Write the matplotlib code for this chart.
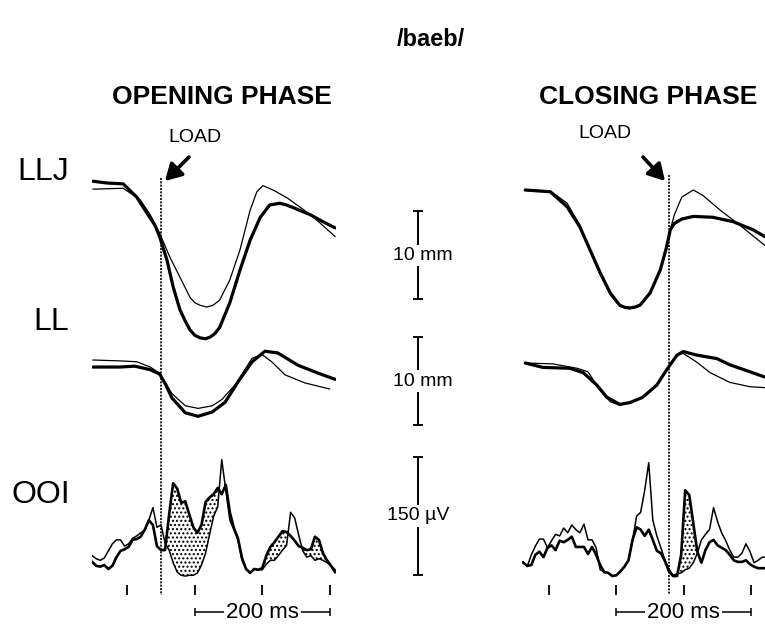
import matplotlib

matplotlib.use("Agg")
import matplotlib.pyplot as plt
import matplotlib.transforms as mtransforms
import numpy as np

# ---- values ----
# time: ms relative to load onset; LLJ / LL: mm; OOI: rectified EMG, uV
# "thick" = loaded trials, "thin" = control trials

# opening phase
LLJ_OPEN_T_THICK = [-101, -80, -56, -36, -21, -9, -2, 9, 18, 28, 36, 43, 50, 58, 66,
                    73, 80, 87, 102, 117, 132, 147, 161, 176, 186, 196, 221, 240, 258]
LLJ_OPEN_THICK = [0.2, 0.0, -0.1, -1.6, -3.4, -4.8, -6.1, -8.8, -11.8, -14.4, -15.7,
                  -16.7, -17.3, -17.6, -17.7, -17.5, -17.1, -16.4, -13.6, -9.9, -6.5,
                  -3.9, -2.5, -2.3, -2.5, -2.8, -3.6, -4.4, -5.1]
LLJ_OPEN_T_THIN = [-101, -56, -31, -16, -2, 13, 28, 43, 50, 58, 68, 77, 87, 102, 117,
                   132, 142, 151, 166, 187, 216, 235, 258]
LLJ_OPEN_THIN = [-0.7, -0.6, -1.9, -3.6, -5.7, -8.4, -10.7, -13.0, -13.6, -13.9, -14.1,
                 -13.9, -13.3, -11.0, -7.6, -3.1, -1.0, -0.3, -0.8, -1.7, -3.3, -4.5,
                 -6.1]

LL_OPEN_T_THICK = [-101, -61, -39, -16, -2, 7, 16, 36, 55, 76, 95, 114, 135, 154,
                   173, 203, 233, 258]
LL_OPEN_THICK = [-0.8, -0.8, -0.7, -1.1, -1.6, -2.8, -4.3, -6.0, -6.4, -5.9, -4.8,
                 -2.5, -0.2, 1.0, 0.8, -0.6, -1.5, -2.2]
LL_OPEN_T_THIN = [-101, -61, -36, -16, -2, 16, 36, 55, 76, 90, 110, 135, 150, 164,
                  184, 213, 250]
LL_OPEN_THIN = [0.0, -0.1, -0.2, -0.8, -1.5, -3.8, -5.2, -5.5, -5.2, -4.5, -2.8,
                0.2, 0.6, -0.2, -1.7, -2.6, -3.3]

OOI_OPEN_T = np.arange(-102, 259, 6)
OOI_OPEN_THICK = [23, 18, 17, 19, 14, 18, 29, 37, 39, 42, 51, 52, 55, 64, 76, 70,
                  43, 38, 38, 83, 123, 116, 98, 100, 83, 67, 60, 70, 99, 105, 109,
                  117, 109, 121, 86, 66, 53, 28, 14, 9, 14, 13, 15, 31, 42, 48, 55,
                  62, 61, 56, 50, 43, 41, 38, 39, 55, 51, 34, 25, 18, 10]
OOI_OPEN_THIN = [31, 27, 25, 28, 37, 46, 51, 51, 43, 46, 53, 56, 60, 64, 76, 92,
                 67, 70, 47, 38, 22, 10, 6, 5, 6, 6, 9, 19, 34, 58, 81, 93, 153,
                 114, 76, 64, 51, 25, 14, 9, 14, 13, 13, 20, 25, 25, 31, 38, 44,
                 86, 79, 57, 37, 29, 31, 25, 27, 25, 22, 18, 13]
OPEN_TICKS = [-50, 50, 150, 250]
OPEN_BAR = (50, 250)

# closing phase
LLJ_CLOSE_T_THICK = [-213, -176, -151, -132, -117, -102, -87, -73, -65, -58, -50, -43,
                     -28, -13, -4, 2, 8, 19, 36, 65, 95, 124, 142]
LLJ_CLOSE_THICK = [0.0, -0.2, -1.9, -4.2, -6.8, -9.4, -11.7, -13.1, -13.35, -13.4,
                   -13.3, -13.1, -11.7, -9.1, -6.6, -4.5, -3.8, -3.3, -3.0, -3.1,
                   -3.6, -4.5, -5.3]
LLJ_CLOSE_T_THIN = [-213, -176, -151, -132, -117, -102, -87, -73, -58, -43, -28,
                    -13, -4, 2, 8, 19, 36, 50, 76, 105, 142]
LLJ_CLOSE_THIN = [0.0, -0.1, -1.5, -4.0, -6.9, -9.6, -11.9, -13.2, -13.5, -13.0,
                  -11.6, -9.0, -6.6, -4.5, -2.8, -0.8, 0.0, -0.6, -2.3, -4.0, -6.3]

LL_CLOSE_T_THICK = [-213, -187, -147, -127, -107, -92, -73, -58, -39, -18, -2, 12,
                    21, 41, 71, 90, 120, 142]
LL_CLOSE_THICK = [0.0, -0.5, -0.6, -1.1, -2.5, -3.9, -4.7, -4.5, -3.9, -2.5, -0.6,
                  0.9, 1.3, 0.9, 0.5, -0.2, -1.0, -1.6]
LL_CLOSE_T_THIN = [-213, -172, -136, -120, -102, -87, -73, -58, -39, -18, -2, 12,
                   21, 41, 61, 90, 120, 142]
LL_CLOSE_THIN = [0.0, -0.1, -0.6, -1.0, -3.1, -4.4, -4.8, -4.5, -3.9, -2.5, -0.6,
                 0.9, 1.1, 0.1, -1.1, -2.2, -2.7, -2.8]

OOI_CLOSE_T = np.arange(-216, 145, 6)
OOI_CLOSE_THICK = [22, 18, 19, 32, 36, 29, 41, 44, 38, 50, 48, 51, 55, 42, 42, 42,
                   33, 42, 32, 19, 10, 9, 5, 6, 11, 17, 25, 51, 67, 64, 56, 64, 51,
                   37, 34, 24, 11, 5, 5, 32, 114, 108, 72, 36, 22, 38, 48, 51, 44,
                   41, 38, 32, 25, 23, 23, 25, 20, 17, 15, 15, 15]
OOI_CLOSE_THIN = [23, 17, 32, 43, 52, 52, 41, 50, 58, 56, 66, 60, 70, 64, 60, 71,
                  51, 51, 41, 13, 11, 9, 5, 6, 10, 17, 25, 51, 81, 86, 114, 149, 76,
                  56, 41, 25, 14, 6, 8, 9, 13, 15, 22, 34, 51, 58, 64, 92, 74, 60,
                  50, 38, 29, 29, 34, 46, 36, 22, 25, 29, 29]
CLOSE_TICKS = [-178, -78, 22, 122]
CLOSE_BAR = (-78, 122)

# calibration bars: (row, bottom value, length, label)
SCALE_BARS = [("LLJ", -13.2, 10, "10 mm"), ("LL", -7.4, 10, "10 mm"),
              ("OOI", 6.4, 150, "150 \u00b5V")]

# ---- layout (pixels of the 765 x 624 picture) ----
W, H = 765, 624
PX_PER_MS = 0.675
COLS = {"open": (92, 336, 161), "close": (522, 765, 669)}   # left, right, load onset
ROWS = {"LLJ": (150, 345, 8.8), "LL": (345, 440, 8.8), "OOI": (440, 624, 0.787)}
ZERO = {("open", "LLJ"): 183, ("close", "LLJ"): 190, ("open", "LL"): 360,
        ("close", "LL"): 363, ("open", "OOI"): 580, ("close", "OOI"): 580}

plt.rcParams["font.family"] = ["Liberation Sans", "DejaVu Sans"]

fig = plt.figure(figsize=(W / 100, H / 100), dpi=100)
fig.patch.set_facecolor("white")

over = fig.add_axes([0, 0, 1, 1])
over.set_xlim(0, W)
over.set_ylim(H, 0)
over.axis("off")


def add_panel(col, row):
    x0, x1, load = COLS[col]
    y0, y1, ppu = ROWS[row]
    z = ZERO[(col, row)]
    ax = fig.add_axes([x0 / W, 1 - y1 / H, (x1 - x0) / W, (y1 - y0) / H])
    ax.set_xlim((x0 - load) / PX_PER_MS, (x1 - load) / PX_PER_MS)
    ax.set_ylim((z - y1) / ppu, (z - y0) / ppu)
    ax.axis("off")
    ax.patch.set_alpha(0)
    return ax


THICK = dict(color="black", lw=2.3, solid_joinstyle="round", solid_capstyle="round", zorder=3)
THIN = dict(color="black", lw=0.9, solid_joinstyle="round", solid_capstyle="round", zorder=3)
EMG_THICK = dict(color="black", lw=1.9, solid_joinstyle="round", zorder=3)
EMG_THIN = dict(color="black", lw=1.1, solid_joinstyle="round", zorder=3)

panels = {
    "open": dict(llj=(LLJ_OPEN_T_THIN, LLJ_OPEN_THIN, LLJ_OPEN_T_THICK, LLJ_OPEN_THICK),
                 ll=(LL_OPEN_T_THIN, LL_OPEN_THIN, LL_OPEN_T_THICK, LL_OPEN_THICK),
                 ooi=(OOI_OPEN_T, OOI_OPEN_THIN, OOI_OPEN_THICK),
                 ticks=OPEN_TICKS, bar=OPEN_BAR, load_top=178),
    "close": dict(llj=(LLJ_CLOSE_T_THIN, LLJ_CLOSE_THIN, LLJ_CLOSE_T_THICK, LLJ_CLOSE_THICK),
                  ll=(LL_CLOSE_T_THIN, LL_CLOSE_THIN, LL_CLOSE_T_THICK, LL_CLOSE_THICK),
                  ooi=(OOI_CLOSE_T, OOI_CLOSE_THIN, OOI_CLOSE_THICK),
                  ticks=CLOSE_TICKS, bar=CLOSE_BAR, load_top=175),
}

axes = {}
for col, p in panels.items():
    a_llj = add_panel(col, "LLJ")
    tt, yt, tk, yk = p["llj"]
    a_llj.plot(tt, yt, **THIN)
    a_llj.plot(tk, yk, **THICK)

    a_ll = add_panel(col, "LL")
    tt, yt, tk, yk = p["ll"]
    a_ll.plot(tt, yt, **THIN)
    a_ll.plot(tk, yk, **THICK)

    a_ooi = add_panel(col, "OOI")
    t, thin, thick = p["ooi"]
    thin = np.asarray(thin, float)
    thick = np.asarray(thick, float)
    a_ooi.fill_between(t, thin, thick, where=(thick > thin) & (t > -8), interpolate=True,
                       facecolor="white", edgecolor="black", hatch="....", linewidth=0,
                       zorder=1)
    a_ooi.plot(t, thin, **EMG_THIN)
    a_ooi.plot(t, thick, **EMG_THICK)

    # time ticks and 200 ms bar
    a_ooi.vlines(p["ticks"], -19, -6, color="black", lw=1.3, clip_on=False)
    b0, b1 = p["bar"]
    ybar = -40.7
    a_ooi.hlines(ybar, b0, b1, color="black", lw=1.1, clip_on=False)
    a_ooi.vlines([b0, b1], ybar - 5, ybar + 5, color="black", lw=1.1, clip_on=False)
    a_ooi.text((b0 + b1) / 2, ybar, "200 ms", ha="center", va="center", fontsize=16,
               bbox=dict(facecolor="white", edgecolor="none", pad=1.5), clip_on=False)

    # load onset line across all three rows
    tr = mtransforms.blended_transform_factory(a_ooi.transData, over.transData)
    over.plot([0, 0], [p["load_top"], 595], transform=tr, color="black", lw=1.2,
              linestyle=(0, (1.2, 0.8)), zorder=4)
    axes[col] = {"LLJ": a_llj, "LL": a_ll, "OOI": a_ooi}

# calibration bars between the two columns
bar_t = (418 - COLS["open"][2]) / PX_PER_MS
cap = 7.5
for row, y0, length, label in SCALE_BARS:
    ax = axes["open"][row]
    ax.vlines(bar_t, y0, y0 + length, color="black", lw=1.4, clip_on=False)
    ax.hlines([y0, y0 + length], bar_t - cap, bar_t + cap, color="black", lw=1.4,
              clip_on=False)
    dx = 7 if "mm" in label else 0
    ax.text(bar_t + dx, y0 + length / 2, label, ha="center", va="center", fontsize=14,
            bbox=dict(facecolor="white", edgecolor="none", pad=1.5), clip_on=False)

# titles and labels
over.text(431, 40, "/baeb/", ha="center", va="center", fontsize=17, weight="bold")
over.text(222, 97, "OPENING PHASE", ha="center", va="center", fontsize=19, weight="bold")
over.text(648, 97, "CLOSING PHASE", ha="center", va="center", fontsize=19, weight="bold")
for x, y, s in [(69, 172, "LLJ"), (69, 322, "LL"), (70, 495, "OOI")]:
    over.text(x, y, s, ha="right", va="center", fontsize=23)

over.text(195, 137, "LOAD", ha="center", va="center", fontsize=14)
over.text(605, 134, "LOAD", ha="center", va="center", fontsize=14)
arrow = dict(arrowstyle="-|>,head_width=0.4,head_length=0.7", lw=2.6, color="black",
             shrinkA=0, shrinkB=0, mutation_scale=14)
over.annotate("", xy=(165, 181), xytext=(189, 157), arrowprops=arrow)
over.annotate("", xy=(665, 181), xytext=(643, 157), arrowprops=arrow)

fig.savefig("out.png", dpi=100, facecolor="white")
